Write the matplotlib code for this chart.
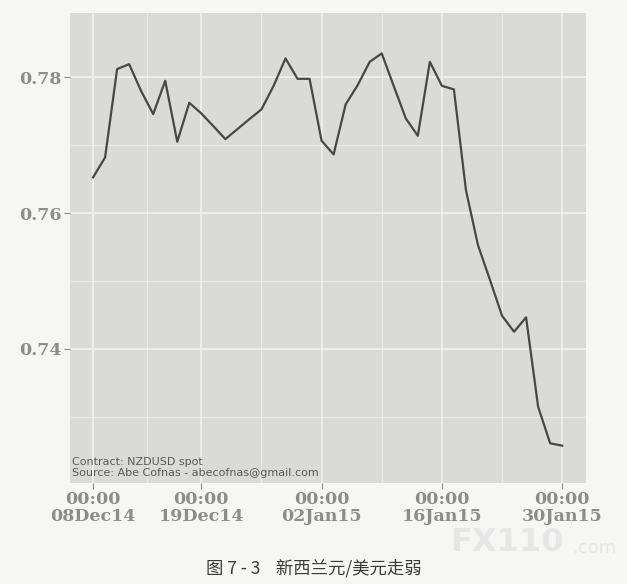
"""NZDUSD spot, Dec 2014 - Jan 2015 (图7-3)."""

import matplotlib
matplotlib.use("Agg")
import matplotlib.pyplot as plt

# one value per trading day, 08Dec14 .. 30Jan15
nzdusd = [
    0.76525, 0.76819, 0.78118, 0.78191, 0.77794, 0.77456, 0.77946, 0.77049,
    0.77622, 0.77466, 0.77279, 0.77088, 0.77235, 0.77382, 0.77525, 0.77868,
    0.78275, 0.77975, 0.77975, 0.77063, 0.76863, 0.77599, 0.77882, 0.78225,
    0.78349, 0.77868, 0.77393, 0.77137, 0.78225, 0.77872, 0.77819, 0.76338,
    0.75529, 0.75015, 0.74490, 0.74254, 0.74466, 0.73151, 0.72613, 0.72578,
]
day_index = list(range(len(nzdusd)))

x_tick_days = [0, 9, 19, 29, 39]
x_tick_labels = ["00:00\n08Dec14", "00:00\n19Dec14", "00:00\n02Jan15",
                 "00:00\n16Jan15", "00:00\n30Jan15"]
y_ticks = [0.74, 0.76, 0.78]
y_tick_labels = ["0.74", "0.76", "0.78"]

note = "Contract: NZDUSD spot\nSource: Abe Cofnas - abecofnas@gmail.com"
caption = "图 7 - 3    新西兰元/美元走弱"

page_bg = "#f6f6f5"
panel_bg = "#dadad9"
grid_col = "#f3f3f3"
label_col = "#8c8c8c"

fig = plt.figure(figsize=(6.27, 5.84), dpi=100, facecolor=page_bg)
ax = fig.add_axes([0.111, 0.173, 0.823, 0.804])
ax.set_facecolor(panel_bg)

ax.plot(day_index, nzdusd, color="#474747", lw=1.6, zorder=3)

ax.set_xlim(-1.95, 40.95)
ax.set_ylim(0.72029, 0.78937)

ax.set_xticks(x_tick_days)
ax.set_xticklabels(x_tick_labels)
ax.set_xticks([4.5, 14, 24, 34], minor=True)
ax.set_yticks(y_ticks)
ax.set_yticklabels(y_tick_labels)
ax.set_yticks([0.73, 0.75, 0.77], minor=True)

ax.grid(which="major", color=grid_col, lw=1.1, zorder=1)
ax.grid(which="minor", color=grid_col, lw=0.5, zorder=1)
for s in ax.spines.values():
    s.set_visible(False)

ax.tick_params(axis="both", which="major", length=4, width=0.8,
               color=label_col, labelcolor=label_col, pad=2)
ax.tick_params(axis="both", which="minor", length=0)
for lab in ax.get_xticklabels() + ax.get_yticklabels():
    lab.set_family("DejaVu Serif")
    lab.set_fontweight("bold")
    lab.set_fontsize(12.5)
for lab in ax.get_xticklabels():
    lab.set_linespacing(1.0)

ax.text(0.005, 0.01, note, transform=ax.transAxes, ha="left", va="bottom",
        fontsize=8, color="#5a5a5a", family="DejaVu Sans", linespacing=1.1)

# watermark of the scanned page
fig.text(0.718, 0.044, "FX110", fontsize=23, color="#e6e6e6", ha="left",
         va="bottom", family="DejaVu Sans", fontweight="bold", zorder=0)
fig.text(0.912, 0.046, ".com", fontsize=13, color="#e6e6e6", ha="left",
         va="bottom", family="DejaVu Sans", zorder=0)

fig.text(0.5, 0.027, caption, ha="center", va="center", fontsize=12.5,
         color="#3a3a3a", family=["Noto Sans CJK SC", "DejaVu Sans"])

fig.savefig("out.png", dpi=100, facecolor=page_bg)
